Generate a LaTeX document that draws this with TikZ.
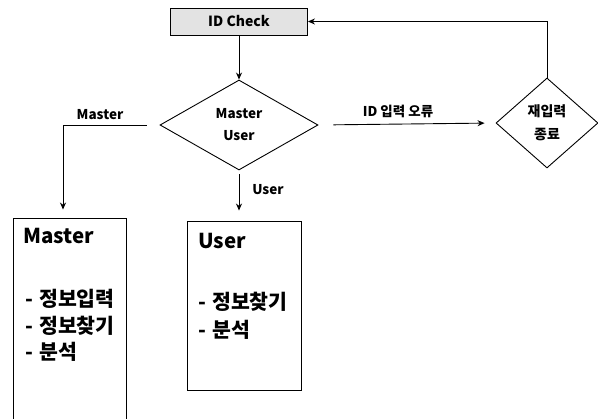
\documentclass[tikz,border=0pt]{standalone}
\usepackage{fontspec}
\setmainfont{Noto Sans CJK KR}
\usetikzlibrary{shapes.geometric,arrows.meta}
\begin{document}
\begin{tikzpicture}[x=1pt,y=-1pt,
  every node/.style={font=\bfseries},
  lbl/.style={font=\fontsize{13.5}{15}\selectfont\bfseries, inner sep=0pt},
  big/.style={font=\fontsize{20.5}{22}\selectfont\bfseries, inner sep=0pt, anchor=west},
  conn/.style={line width=0.9pt},
  arr/.style={conn, -{Stealth[length=7pt,width=6pt]}},
  dia/.style={draw, line width=0.9pt, shape=diamond, inner sep=0pt, fill=white},
  panel/.style={draw, line width=0.9pt, inner sep=0pt, fill=white}]
\useasboundingbox (0,0) rectangle (598,419);
% nodes
\node[panel, fill=gray!22, minimum width=137pt, minimum height=27pt,
      font=\fontsize{14}{16}\selectfont\bfseries] (idc) at (239,21.5) {ID Check};
\node[dia, minimum width=158pt, minimum height=90pt, align=center,
      font=\fontsize{13.5}{22}\selectfont\bfseries] (d1) at (239,125) {Master\\User};
\node[dia, minimum width=102pt, minimum height=90pt, align=center,
      font=\fontsize{14}{23}\selectfont\bfseries] (d2) at (547,123) {재입력\\종료};
\node[panel, minimum width=113pt, minimum height=210pt] (mb) at (69.5,323) {};
\node[panel, minimum width=114pt, minimum height=169pt] (ub) at (244,305.5) {};
% box texts
\node[big] (mt) at (23,236) {Master};
\node[big] (m1) at (25,299) {-\hspace{0.3em}정보입력};
\node[big] (m2) at (25,326) {-\hspace{0.3em}정보찾기};
\node[big] (m3) at (25,352) {-\hspace{0.3em}분석};
\node[big] (ut) at (198,241) {User};
\node[big] (u1) at (198,302) {-\hspace{0.3em}정보찾기};
\node[big] (u2) at (198,330) {-\hspace{0.3em}분석};
% connectors
\draw[arr] (idc.south) -- (d1.north);
\draw[arr, shorten <=15pt, shorten >=11pt] (d1.east) -- (d2.west);
\node[lbl] (el) at (398,111) {ID 입력 오류};
\draw[arr] (d2.north) |- (idc.east);
\coordinate (mtop) at ([xshift=-6.5pt]mb.north);
\draw[arr, shorten <=13pt, shorten >=8pt] (d1.west) -| (mtop);
\node[lbl] (ml) at (100,115) {Master};
\coordinate (utop) at ([xshift=-4pt]ub.north);
\draw[arr, shorten <=4pt, shorten >=10pt] (d1.south) -- (d1.south |- utop);
\node[lbl] (ul) at (268,190) {User};
\end{tikzpicture}
\end{document}
